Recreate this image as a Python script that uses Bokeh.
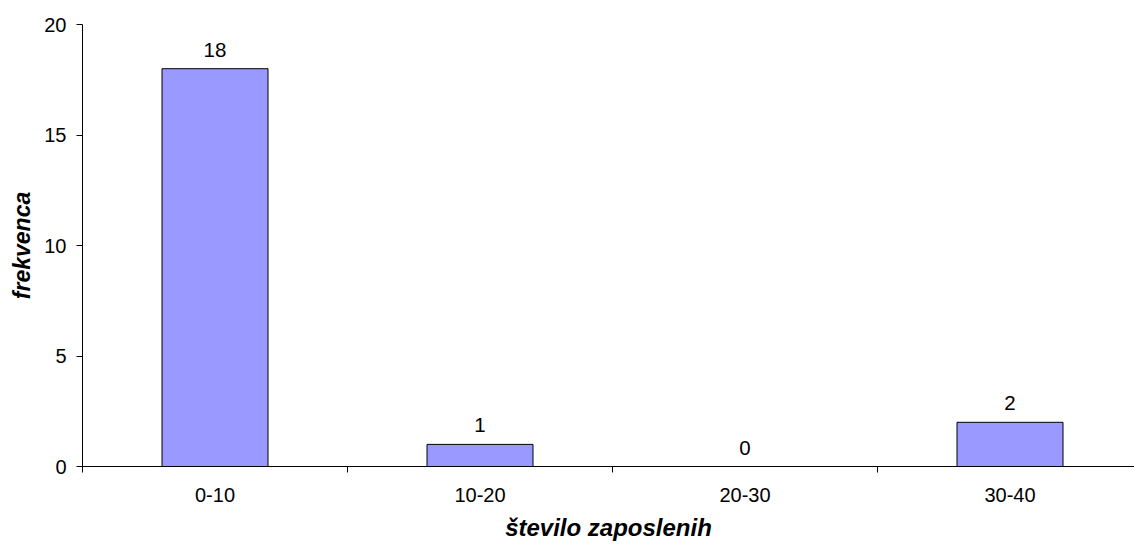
from bokeh.plotting import figure
from bokeh.models import Range1d, FixedTicker, ColumnDataSource
from bokeh.core.properties import value
from bokeh.embed import file_html
from bokeh.resources import INLINE

categories = ["0-10", "10-20", "20-30", "30-40"]
frequencies = [18, 1, 0, 2]
y_ticks = [0, 5, 10, 15, 20]
x_title = "število zaposlenih"
y_title = "frekvenca"

xs = [i + 0.5 for i in range(len(categories))]
src = ColumnDataSource(dict(x=xs, top=frequencies, lbl=[str(v) for v in frequencies]))

FONT = "Liberation Sans"

p = figure(width=1134, height=544, output_backend="svg", toolbar_location=None,
           x_range=Range1d(0, 1052 / 265), y_range=Range1d(0, 20),
           min_border_left=82, min_border_right=0, min_border_top=24, min_border_bottom=78)
p.outline_line_color = None
p.xgrid.visible = False
p.ygrid.visible = False
p.background_fill_color = "white"
p.border_fill_color = "white"

p.vbar(x="x", top="top", bottom=0, width=0.4, source=src,
       fill_color="#9999FF", line_color="#000000", line_width=1)
p.text(x="x", y="top", text="lbl", source=src, text_align="center",
       text_baseline="alphabetic", y_offset=-19, text_font=value(FONT),
       text_font_size="20.5px", text_color="black")

ya = p.yaxis[0]
ya.ticker = FixedTicker(ticks=y_ticks)
ya.major_tick_out = 6
ya.major_tick_in = 0
ya.minor_tick_line_color = None
ya.axis_line_color = "black"
ya.major_tick_line_color = "black"
ya.major_label_text_font = FONT
ya.major_label_text_font_size = "20px"
ya.major_label_text_color = "black"
ya.major_label_standoff = 10
ya.axis_label = y_title
ya.axis_label_text_font = FONT
ya.axis_label_text_font_size = "23px"
ya.axis_label_text_font_style = "bold italic"
ya.axis_label_text_color = "black"
ya.axis_label_standoff = 6

xa = p.xaxis[0]
xa.ticker = FixedTicker(ticks=xs, minor_ticks=list(range(len(categories))))
xa.major_label_overrides = {x: c for x, c in zip(xs, categories)}
xa.major_tick_line_color = None
xa.major_tick_out = 6
xa.major_tick_in = 0
xa.minor_tick_out = 6
xa.minor_tick_in = 0
xa.minor_tick_line_color = "black"
xa.axis_line_color = "black"
xa.major_label_text_font = FONT
xa.major_label_text_font_size = "20px"
xa.major_label_text_color = "black"
xa.major_label_text_line_height = 0.8
xa.major_label_standoff = 15
xa.axis_label = x_title
xa.axis_label_text_font = FONT
xa.axis_label_text_font_size = "24px"
xa.axis_label_text_font_style = "bold italic"
xa.axis_label_text_color = "black"
xa.axis_label_text_line_height = 0.8
xa.axis_label_standoff = 9

open("out.html", "w").write(file_html(p, INLINE))
